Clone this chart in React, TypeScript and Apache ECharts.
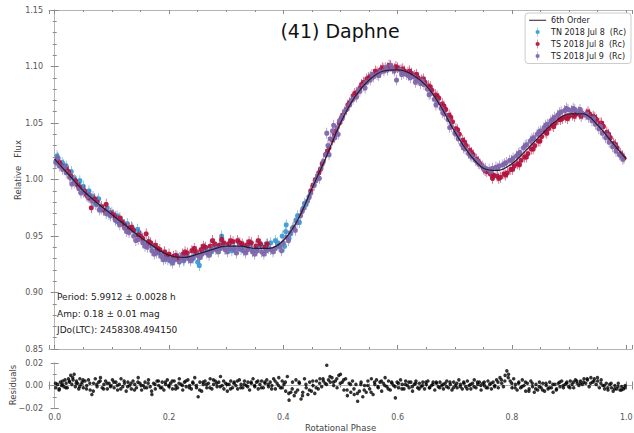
import React, { useEffect, useRef } from "react";
import * as echarts from "echarts";

// 6th-order fit, read at phase steps
const fitCurve: number[][] = [
  [0.0, 1.018], [0.025, 1.004], [0.05, 0.99], [0.075, 0.979], [0.1, 0.969], [0.125, 0.959],
  [0.15, 0.949], [0.175, 0.94], [0.2, 0.933], [0.225, 0.931], [0.25, 0.934], [0.275, 0.938],
  [0.3, 0.941], [0.325, 0.941], [0.35, 0.939], [0.375, 0.939], [0.4, 0.946], [0.425, 0.964],
  [0.45, 0.992], [0.475, 1.02], [0.5, 1.05], [0.525, 1.073], [0.55, 1.088], [0.575, 1.096],
  [0.6, 1.097], [0.625, 1.093], [0.65, 1.083], [0.675, 1.065], [0.7, 1.042], [0.725, 1.023],
  [0.75, 1.01], [0.775, 1.008], [0.8, 1.014], [0.825, 1.026], [0.85, 1.039], [0.875, 1.051],
  [0.9, 1.058], [0.925, 1.058], [0.95, 1.048], [0.975, 1.033], [1.0, 1.018],
];

const tnJul8: number[][] = [
  [0.002, 1.016], [0.006, 1.019], [0.01, 1.013], [0.013, 1.015], [0.017, 1.01], [0.02, 1.012],
  [0.024, 1.006], [0.027, 1.004], [0.031, 1.002], [0.035, 1.0], [0.038, 0.998], [0.042, 0.996],
  [0.046, 0.993], [0.05, 0.994], [0.054, 0.988], [0.058, 0.987], [0.062, 0.983], [0.067, 0.985],
  [0.071, 0.978], [0.075, 0.981], [0.08, 0.975], [0.085, 0.973], [0.09, 0.972], [0.095, 0.969],
  [0.1, 0.971], [0.106, 0.965], [0.112, 0.962], [0.118, 0.963], [0.124, 0.958], [0.13, 0.955],
  [0.136, 0.957], [0.142, 0.951], [0.148, 0.953], [0.155, 0.946], [0.162, 0.943], [0.17, 0.941],
  [0.178, 0.938], [0.186, 0.934], [0.194, 0.932], [0.202, 0.93], [0.21, 0.929], [0.218, 0.931],
  [0.226, 0.928], [0.234, 0.931], [0.242, 0.93], [0.25, 0.927], [0.258, 0.935], [0.266, 0.937],
  [0.274, 0.936], [0.282, 0.94], [0.29, 0.941], [0.292, 0.95], [0.298, 0.939], [0.306, 0.943],
  [0.314, 0.94], [0.322, 0.944], [0.33, 0.941], [0.338, 0.94], [0.346, 0.937], [0.354, 0.939],
  [0.362, 0.941], [0.37, 0.943], [0.378, 0.944], [0.386, 0.946], [0.392, 0.941], [0.398, 0.95],
  [0.404, 0.954], [0.41, 0.948], [0.416, 0.957], [0.422, 0.964], [0.428, 0.962], [0.434, 0.974],
  [0.44, 0.978], [0.004, 1.021], [0.015, 1.013], [0.029, 1.007], [0.044, 0.999], [0.06, 0.99],
  [0.077, 0.983], [0.092, 0.975], [0.109, 0.968], [0.127, 0.961], [0.145, 0.956], [0.165, 0.945],
  [0.182, 0.935], [0.198, 0.929], [0.214, 0.932], [0.23, 0.933], [0.246, 0.934], [0.262, 0.939],
  [0.278, 0.939], [0.294, 0.943], [0.31, 0.937], [0.326, 0.938], [0.342, 0.942], [0.358, 0.942],
  [0.374, 0.939], [0.39, 0.944], [0.402, 0.941], [0.405, 0.96], [0.413, 0.952], [0.425, 0.968],
  [0.437, 0.979], [0.445, 0.985], [0.253, 0.924],
];

const tsJul8: number[][] = [
  [0.004, 1.017], [0.012, 1.012], [0.02, 1.009], [0.028, 1.003], [0.036, 0.999], [0.044, 0.993],
  [0.052, 0.99], [0.06, 0.984], [0.064, 0.975], [0.074, 0.98], [0.082, 0.976], [0.09, 0.978],
  [0.098, 0.97], [0.106, 0.967], [0.114, 0.966], [0.122, 0.96], [0.13, 0.957], [0.138, 0.955],
  [0.146, 0.951], [0.154, 0.948], [0.16, 0.952], [0.168, 0.944], [0.176, 0.942], [0.184, 0.938],
  [0.192, 0.936], [0.2, 0.934], [0.208, 0.932], [0.216, 0.93], [0.224, 0.934], [0.232, 0.935],
  [0.24, 0.937], [0.248, 0.936], [0.256, 0.938], [0.264, 0.94], [0.272, 0.941], [0.28, 0.943],
  [0.288, 0.942], [0.296, 0.944], [0.304, 0.943], [0.312, 0.945], [0.32, 0.946], [0.328, 0.943],
  [0.336, 0.942], [0.344, 0.944], [0.352, 0.941], [0.36, 0.943], [0.368, 0.94], [0.448, 0.99],
  [0.456, 1.0], [0.462, 1.006], [0.468, 1.014], [0.474, 1.022], [0.48, 1.028], [0.486, 1.035],
  [0.492, 1.043], [0.498, 1.05], [0.504, 1.057], [0.51, 1.062], [0.516, 1.068], [0.522, 1.074],
  [0.528, 1.077], [0.534, 1.081], [0.54, 1.086], [0.546, 1.089], [0.552, 1.091], [0.558, 1.093],
  [0.564, 1.095], [0.57, 1.097], [0.576, 1.098], [0.582, 1.099], [0.588, 1.1], [0.594, 1.098],
  [0.6, 1.099], [0.606, 1.097], [0.612, 1.096], [0.618, 1.095], [0.624, 1.094], [0.63, 1.092],
  [0.636, 1.09], [0.642, 1.088], [0.648, 1.086], [0.654, 1.083], [0.66, 1.079], [0.666, 1.075],
  [0.672, 1.072], [0.678, 1.067], [0.684, 1.062], [0.69, 1.057], [0.696, 1.051], [0.702, 1.045],
  [0.708, 1.04], [0.714, 1.035], [0.72, 1.03], [0.726, 1.026], [0.732, 1.022], [0.738, 1.018],
  [0.744, 1.014], [0.75, 1.01], [0.756, 1.007], [0.762, 1.005], [0.766, 1.001], [0.768, 1.004],
  [0.774, 1.003], [0.78, 1.002], [0.786, 1.005], [0.792, 1.006], [0.798, 1.009], [0.804, 1.012],
  [0.81, 1.014], [0.816, 1.017], [0.822, 1.02], [0.828, 1.023], [0.834, 1.027], [0.84, 1.03],
  [0.846, 1.034], [0.852, 1.038], [0.858, 1.042], [0.864, 1.045], [0.87, 1.048], [0.876, 1.05],
  [0.882, 1.053], [0.888, 1.054], [0.894, 1.055], [0.9, 1.056], [0.906, 1.057], [0.912, 1.058],
  [0.918, 1.058], [0.924, 1.058], [0.93, 1.058], [0.936, 1.058], [0.942, 1.056], [0.948, 1.053],
  [0.954, 1.05], [0.96, 1.047], [0.966, 1.042], [0.972, 1.037], [0.978, 1.032], [0.984, 1.028],
  [0.99, 1.023], [0.996, 1.019], [0.008, 1.015], [0.024, 1.007], [0.04, 0.995], [0.056, 0.986],
  [0.07, 0.983], [0.086, 0.973], [0.102, 0.969], [0.118, 0.962], [0.134, 0.958], [0.15, 0.95],
  [0.164, 0.945], [0.18, 0.939], [0.196, 0.933], [0.212, 0.933], [0.228, 0.936], [0.244, 0.939],
  [0.26, 0.941], [0.276, 0.946], [0.292, 0.947], [0.308, 0.946], [0.324, 0.944], [0.34, 0.945],
  [0.356, 0.946], [0.372, 0.943], [0.452, 0.995], [0.465, 1.009], [0.477, 1.025], [0.489, 1.04],
  [0.501, 1.054], [0.513, 1.066], [0.525, 1.076], [0.537, 1.084], [0.549, 1.09], [0.561, 1.096],
  [0.573, 1.099], [0.585, 1.101], [0.597, 1.1], [0.609, 1.098], [0.621, 1.096], [0.633, 1.093],
  [0.645, 1.089], [0.657, 1.082], [0.669, 1.074], [0.681, 1.065], [0.693, 1.055], [0.705, 1.044],
  [0.717, 1.033], [0.729, 1.024], [0.741, 1.016], [0.753, 1.008], [0.765, 1.004], [0.777, 1.001],
  [0.789, 1.004], [0.801, 1.009], [0.813, 1.013], [0.825, 1.02], [0.837, 1.027], [0.849, 1.034],
  [0.861, 1.041], [0.873, 1.047], [0.885, 1.053], [0.897, 1.054], [0.909, 1.056], [0.921, 1.056],
  [0.933, 1.06], [0.945, 1.055], [0.957, 1.05], [0.969, 1.04], [0.981, 1.031], [0.993, 1.021],
];

const tsJul9: number[][] = [
  [0.002, 1.015], [0.008, 1.012], [0.014, 1.009], [0.02, 1.006], [0.026, 1.002], [0.034, 0.997],
  [0.042, 0.992], [0.05, 0.989], [0.058, 0.985], [0.066, 0.981], [0.074, 0.978], [0.082, 0.974],
  [0.09, 0.97], [0.098, 0.968], [0.106, 0.964], [0.114, 0.96], [0.122, 0.957], [0.13, 0.953],
  [0.138, 0.95], [0.146, 0.947], [0.154, 0.944], [0.162, 0.94], [0.17, 0.937], [0.178, 0.935],
  [0.186, 0.932], [0.194, 0.93], [0.202, 0.928], [0.21, 0.929], [0.218, 0.927], [0.226, 0.929],
  [0.234, 0.93], [0.242, 0.931], [0.25, 0.933], [0.258, 0.934], [0.266, 0.935], [0.274, 0.937],
  [0.282, 0.938], [0.29, 0.939], [0.298, 0.938], [0.306, 0.939], [0.314, 0.938], [0.322, 0.939],
  [0.33, 0.937], [0.338, 0.938], [0.346, 0.936], [0.354, 0.937], [0.362, 0.936], [0.37, 0.937],
  [0.378, 0.938], [0.386, 0.939], [0.394, 0.941], [0.4, 0.944], [0.406, 0.949], [0.412, 0.953],
  [0.418, 0.958], [0.424, 0.962], [0.43, 0.968], [0.436, 0.975], [0.442, 0.981], [0.448, 0.988],
  [0.454, 0.995], [0.46, 1.003], [0.466, 1.01], [0.47, 1.016], [0.474, 1.022], [0.476, 1.041],
  [0.478, 1.03], [0.482, 1.036], [0.486, 1.043], [0.49, 1.037], [0.494, 1.046], [0.498, 1.052],
  [0.504, 1.056], [0.51, 1.062], [0.516, 1.066], [0.522, 1.071], [0.528, 1.073], [0.534, 1.078],
  [0.54, 1.083], [0.546, 1.086], [0.552, 1.088], [0.558, 1.091], [0.564, 1.093], [0.57, 1.095],
  [0.576, 1.096], [0.582, 1.097], [0.588, 1.101], [0.594, 1.096], [0.598, 1.088], [0.604, 1.097],
  [0.61, 1.094], [0.616, 1.093], [0.622, 1.09], [0.628, 1.091], [0.634, 1.088], [0.64, 1.085],
  [0.646, 1.084], [0.652, 1.08], [0.658, 1.076], [0.664, 1.071], [0.67, 1.068], [0.676, 1.063],
  [0.682, 1.058], [0.688, 1.053], [0.694, 1.047], [0.7, 1.041], [0.706, 1.036], [0.712, 1.031],
  [0.718, 1.027], [0.724, 1.023], [0.73, 1.02], [0.736, 1.017], [0.742, 1.014], [0.748, 1.012],
  [0.754, 1.01], [0.76, 1.009], [0.766, 1.01], [0.772, 1.011], [0.778, 1.012], [0.784, 1.013],
  [0.79, 1.015], [0.796, 1.017], [0.802, 1.019], [0.808, 1.021], [0.814, 1.024], [0.82, 1.028],
  [0.826, 1.031], [0.832, 1.034], [0.838, 1.037], [0.844, 1.04], [0.85, 1.043], [0.856, 1.046],
  [0.862, 1.049], [0.868, 1.052], [0.874, 1.055], [0.88, 1.057], [0.886, 1.06], [0.892, 1.061],
  [0.898, 1.062], [0.904, 1.061], [0.91, 1.062], [0.916, 1.06], [0.922, 1.059], [0.928, 1.057],
  [0.934, 1.055], [0.94, 1.052], [0.946, 1.049], [0.952, 1.045], [0.958, 1.041], [0.964, 1.037],
  [0.97, 1.033], [0.976, 1.029], [0.982, 1.025], [0.988, 1.022], [0.994, 1.018],
  [0.005, 1.019], [0.017, 1.011], [0.03, 0.996], [0.046, 0.988], [0.062, 0.986], [0.078, 0.973],
  [0.094, 0.971], [0.11, 0.963], [0.126, 0.954], [0.142, 0.946], [0.158, 0.941], [0.174, 0.934],
  [0.19, 0.929], [0.206, 0.926], [0.222, 0.931], [0.238, 0.928], [0.254, 0.931], [0.27, 0.933],
  [0.286, 0.936], [0.302, 0.936], [0.318, 0.935], [0.334, 0.935], [0.35, 0.934], [0.366, 0.934],
  [0.382, 0.936], [0.397, 0.937], [0.409, 0.946], [0.421, 0.955], [0.433, 0.972], [0.445, 0.984],
  [0.457, 0.999], [0.463, 1.001], [0.48, 1.022], [0.488, 1.048], [0.496, 1.04], [0.503, 1.054],
  [0.507, 1.06], [0.519, 1.07], [0.531, 1.079], [0.543, 1.081], [0.555, 1.093], [0.567, 1.092],
  [0.579, 1.099], [0.591, 1.098], [0.607, 1.093], [0.619, 1.092], [0.631, 1.086], [0.643, 1.087],
  [0.655, 1.075], [0.667, 1.066], [0.679, 1.059], [0.691, 1.046], [0.703, 1.04], [0.715, 1.028],
  [0.727, 1.021], [0.739, 1.016], [0.751, 1.009], [0.763, 1.007], [0.775, 1.01], [0.787, 1.014],
  [0.799, 1.017], [0.811, 1.023], [0.823, 1.03], [0.835, 1.036], [0.847, 1.042], [0.859, 1.048],
  [0.871, 1.053], [0.883, 1.059], [0.895, 1.063], [0.907, 1.063], [0.919, 1.062], [0.931, 1.058],
  [0.943, 1.054], [0.955, 1.047], [0.967, 1.039], [0.979, 1.03], [0.991, 1.021],
];

const residuals: number[][] = [
  [0.002, -0.002], [0.005, 0.001], [0.008, -0.003], [0.01, 0.003], [0.012, 0.0], [0.014, 0.004],
  [0.016, -0.001], [0.018, 0.005], [0.02, 0.002], [0.022, -0.002], [0.024, 0.006], [0.026, 0.003],
  [0.028, 0.009], [0.03, 0.001], [0.032, 0.005], [0.034, 0.01], [0.036, -0.001], [0.038, 0.004],
  [0.04, 0.002], [0.042, -0.003], [0.044, 0.006], [0.046, 0.001], [0.048, 0.003], [0.05, -0.002],
  [0.053, 0.004], [0.056, 0.0], [0.059, 0.005], [0.062, -0.004], [0.065, -0.008], [0.068, 0.002],
  [0.071, 0.006], [0.074, -0.001], [0.077, 0.003], [0.08, 0.007], [0.083, -0.002], [0.086, 0.001],
  [0.089, 0.004], [0.092, -0.003], [0.095, 0.002], [0.098, 0.0], [0.101, 0.005], [0.104, -0.002],
  [0.107, 0.003], [0.11, -0.004], [0.113, 0.001], [0.116, 0.006], [0.119, -0.001], [0.122, 0.002],
  [0.125, -0.005], [0.128, 0.003], [0.131, 0.0], [0.134, -0.003], [0.137, 0.004], [0.14, 0.001],
  [0.143, -0.002], [0.146, 0.007], [0.149, 0.002], [0.152, -0.004], [0.155, 0.0], [0.158, 0.003],
  [0.161, -0.002], [0.164, 0.005], [0.167, -0.001], [0.17, -0.008], [0.173, 0.002], [0.176, -0.003],
  [0.179, 0.004], [0.182, 0.0], [0.185, -0.002], [0.188, 0.003], [0.191, -0.004], [0.194, 0.001],
  [0.197, 0.005], [0.2, -0.001], [0.203, 0.002], [0.206, -0.003], [0.209, 0.004], [0.212, 0.0],
  [0.215, -0.002], [0.218, 0.006], [0.221, 0.001], [0.224, -0.004], [0.227, 0.003], [0.23, -0.001],
  [0.233, 0.005], [0.236, 0.0], [0.239, -0.003], [0.242, 0.002], [0.245, 0.007], [0.248, -0.002],
  [0.251, -0.01], [0.254, 0.003], [0.257, -0.005], [0.26, 0.001], [0.263, 0.004], [0.266, -0.002],
  [0.269, 0.002], [0.272, 0.006], [0.275, -0.003], [0.278, 0.001], [0.281, 0.004], [0.284, -0.001],
  [0.287, 0.003], [0.29, 0.008], [0.293, 0.0], [0.296, -0.003], [0.299, 0.002], [0.302, -0.005],
  [0.305, 0.001], [0.308, 0.004], [0.311, -0.002], [0.314, 0.003], [0.317, 0.0], [0.32, -0.003],
  [0.323, 0.005], [0.326, 0.001], [0.329, -0.002], [0.332, 0.004], [0.335, 0.0], [0.338, 0.003],
  [0.341, -0.004], [0.344, 0.002], [0.347, 0.006], [0.35, -0.001], [0.353, 0.003], [0.356, -0.003],
  [0.359, 0.001], [0.362, 0.004], [0.365, -0.002], [0.368, 0.002], [0.371, 0.005], [0.374, -0.001],
  [0.377, 0.003], [0.38, 0.0], [0.383, 0.006], [0.386, -0.003], [0.389, 0.002], [0.392, 0.007],
  [0.395, -0.002], [0.398, 0.004], [0.401, 0.001], [0.404, -0.005], [0.407, 0.008], [0.41, -0.013],
  [0.413, -0.006], [0.416, 0.003], [0.419, -0.009], [0.422, 0.005], [0.425, -0.004], [0.428, 0.002],
  [0.431, -0.012], [0.434, -0.006], [0.437, 0.006], [0.44, -0.002], [0.443, -0.008], [0.446, 0.003],
  [0.449, -0.005], [0.452, 0.0], [0.455, -0.007], [0.458, 0.004], [0.461, -0.003], [0.464, 0.006],
  [0.467, -0.001], [0.47, 0.004], [0.473, 0.002], [0.476, 0.018], [0.479, 0.005], [0.482, 0.003],
  [0.485, 0.007], [0.488, 0.0], [0.491, 0.004], [0.494, -0.002], [0.497, 0.009], [0.5, 0.01],
  [0.503, 0.003], [0.506, -0.004], [0.509, 0.006], [0.512, -0.009], [0.515, 0.002], [0.518, -0.006],
  [0.521, 0.004], [0.524, -0.008], [0.527, 0.001], [0.53, -0.014], [0.533, -0.005], [0.536, 0.003],
  [0.539, -0.01], [0.542, 0.0], [0.545, -0.006], [0.548, 0.004], [0.551, -0.003], [0.554, 0.006],
  [0.557, -0.008], [0.56, 0.001], [0.563, 0.005], [0.566, -0.002], [0.569, 0.003], [0.572, -0.005],
  [0.575, 0.002], [0.578, 0.007], [0.581, -0.001], [0.584, 0.004], [0.587, -0.004], [0.59, 0.002],
  [0.593, 0.0], [0.596, -0.011], [0.599, 0.003], [0.602, -0.002], [0.605, 0.005], [0.608, 0.001],
  [0.611, -0.003], [0.614, 0.004], [0.617, 0.0], [0.62, -0.002], [0.623, 0.003], [0.626, -0.005],
  [0.629, 0.001], [0.632, 0.004], [0.635, -0.002], [0.638, 0.002], [0.641, -0.001], [0.644, 0.003],
  [0.647, -0.003], [0.65, 0.001], [0.653, 0.004], [0.656, -0.002], [0.659, 0.0], [0.662, 0.003],
  [0.665, -0.004], [0.668, 0.002], [0.671, -0.001], [0.674, 0.003], [0.677, 0.0], [0.68, -0.003],
  [0.683, 0.002], [0.686, 0.004], [0.689, -0.002], [0.692, 0.001], [0.695, -0.004], [0.698, 0.003],
  [0.701, 0.0], [0.704, -0.002], [0.707, 0.005], [0.71, 0.001], [0.713, -0.003], [0.716, 0.002],
  [0.719, -0.001], [0.722, 0.004], [0.725, 0.0], [0.728, -0.003], [0.731, 0.002], [0.734, 0.005],
  [0.737, -0.002], [0.74, 0.001], [0.743, 0.003], [0.746, -0.004], [0.749, 0.002], [0.752, 0.0],
  [0.755, -0.002], [0.758, 0.004], [0.761, 0.001], [0.764, -0.003], [0.767, 0.003], [0.77, 0.0],
  [0.773, 0.005], [0.776, -0.002], [0.779, 0.007], [0.782, 0.002], [0.785, -0.001], [0.788, 0.009],
  [0.791, 0.013], [0.794, 0.01], [0.797, 0.004], [0.8, -0.002], [0.803, 0.006], [0.806, 0.001],
  [0.809, -0.004], [0.812, 0.003], [0.815, -0.002], [0.818, 0.005], [0.821, 0.0], [0.824, -0.005],
  [0.827, 0.002], [0.83, -0.003], [0.833, 0.004], [0.836, -0.001], [0.839, -0.006], [0.842, 0.001],
  [0.845, -0.004], [0.848, 0.003], [0.851, -0.002], [0.854, 0.002], [0.857, -0.005], [0.86, 0.0],
  [0.863, -0.003], [0.866, 0.003], [0.869, -0.002], [0.872, -0.006], [0.875, 0.001], [0.878, -0.003],
  [0.881, 0.002], [0.884, -0.001], [0.887, 0.004], [0.89, -0.002], [0.893, 0.001], [0.896, 0.003],
  [0.899, -0.001], [0.902, 0.004], [0.905, 0.001], [0.908, -0.002], [0.911, 0.005], [0.914, 0.002],
  [0.917, 0.0], [0.92, 0.004], [0.923, 0.001], [0.926, 0.006], [0.929, 0.002], [0.932, 0.005],
  [0.935, -0.001], [0.938, 0.007], [0.941, 0.003], [0.944, 0.006], [0.947, 0.001], [0.95, 0.004],
  [0.953, -0.002], [0.956, 0.005], [0.959, 0.0], [0.962, -0.003], [0.965, 0.002], [0.968, -0.004],
  [0.971, 0.001], [0.974, -0.002], [0.977, -0.005], [0.98, 0.0], [0.983, -0.003], [0.986, 0.002],
  [0.989, -0.004], [0.992, -0.001], [0.995, -0.003], [0.998, 0.0],
  [0.0015, 0.002], [0.0075, -0.004], [0.0135, 0.001], [0.0195, -0.002], [0.0255, 0.004], [0.0315, 0.007],
  [0.0375, 0.002], [0.0435, -0.001], [0.0495, 0.005], [0.0555, -0.003], [0.0615, 0.002], [0.0675, -0.005],
  [0.0735, 0.001], [0.0795, 0.004], [0.0855, -0.003], [0.0915, 0.002], [0.0975, -0.001], [0.1035, 0.003],
  [0.1095, 0.0], [0.1155, -0.003], [0.1215, 0.004], [0.1275, -0.001], [0.1335, 0.002], [0.1395, -0.004],
  [0.1455, 0.003], [0.1515, 0.0], [0.1575, -0.002], [0.1635, 0.002], [0.1695, -0.005], [0.1755, 0.001],
  [0.1815, 0.004], [0.1875, -0.002], [0.1935, 0.003], [0.1995, 0.0], [0.2055, 0.004], [0.2115, -0.003],
  [0.2175, 0.002], [0.2235, 0.0], [0.2295, 0.004], [0.2355, -0.002], [0.2415, 0.003], [0.2475, 0.0],
  [0.2535, -0.004], [0.2595, 0.003], [0.2655, 0.001], [0.2715, -0.002], [0.2775, 0.005], [0.2835, 0.002],
  [0.2895, -0.001], [0.2955, 0.004], [0.3015, 0.001], [0.3075, -0.003], [0.3135, 0.002], [0.3195, 0.004],
  [0.3255, -0.002], [0.3315, 0.001], [0.3375, -0.001], [0.3435, 0.003], [0.3495, 0.0], [0.3555, 0.004],
  [0.3615, -0.002], [0.3675, 0.003], [0.3735, 0.001], [0.3795, -0.003], [0.3855, 0.004], [0.3915, 0.0],
  [0.3975, -0.002], [0.4035, 0.003], [0.4095, -0.007], [0.4155, -0.003], [0.4215, -0.006], [0.4275, 0.003],
  [0.4335, -0.009], [0.4395, 0.001], [0.4455, -0.004], [0.4515, 0.004], [0.4575, -0.002], [0.4635, 0.002],
  [0.4695, 0.006], [0.4755, 0.001], [0.4815, 0.008], [0.4875, 0.003], [0.4935, 0.006], [0.4995, 0.002],
  [0.5055, 0.005], [0.5115, -0.004], [0.5175, 0.001], [0.5235, -0.003], [0.5295, -0.007], [0.5355, 0.001],
  [0.5415, -0.004], [0.5475, 0.0], [0.5535, -0.006], [0.5595, 0.003], [0.5655, -0.001], [0.5715, 0.004],
  [0.5775, 0.0], [0.5835, -0.003], [0.5895, 0.003], [0.5955, -0.001], [0.6015, 0.002], [0.6075, -0.003],
  [0.6135, 0.001], [0.6195, 0.003], [0.6255, -0.001], [0.6315, 0.002], [0.6375, -0.003], [0.6435, 0.0],
  [0.6495, 0.003], [0.6555, -0.002], [0.6615, 0.001], [0.6675, 0.003], [0.6735, -0.002], [0.6795, 0.001],
  [0.6855, -0.001], [0.6915, 0.003], [0.6975, -0.002], [0.7035, 0.002], [0.7095, -0.001], [0.7155, 0.003],
  [0.7215, -0.003], [0.7275, 0.001], [0.7335, -0.001], [0.7395, 0.003], [0.7455, 0.0], [0.7515, 0.003],
  [0.7575, -0.002], [0.7635, 0.002], [0.7695, -0.001], [0.7755, 0.003], [0.7815, 0.005], [0.7875, 0.004],
  [0.7935, 0.007], [0.7995, 0.002], [0.8055, -0.002], [0.8115, 0.002], [0.8175, -0.001], [0.8235, 0.003],
  [0.8295, -0.005], [0.8355, 0.002], [0.8415, -0.003], [0.8475, -0.001], [0.8535, -0.004], [0.8595, 0.002],
  [0.8655, -0.002], [0.8715, 0.001], [0.8775, -0.004], [0.8835, 0.003], [0.8895, 0.0], [0.8955, 0.002],
  [0.9015, -0.002], [0.9075, 0.003], [0.9135, 0.004], [0.9195, 0.002], [0.9255, 0.003], [0.9315, 0.006],
  [0.9375, 0.002], [0.9435, 0.004], [0.9495, 0.007], [0.9555, 0.002], [0.9615, 0.0], [0.9675, -0.002],
  [0.9735, 0.002], [0.9795, -0.003], [0.9855, -0.001], [0.9915, -0.004], [0.9975, -0.002],
];

const seriesNames = ["6th Order", "TN 2018 Jul 8  (Rc)", "TS 2018 Jul 8  (Rc)", "TS 2018 Jul 9  (Rc)"];
const annotations = ["Period: 5.9912 \u00b1 0.0028 h", "Amp: 0.18 \u00b1 0.01 mag", "JDo(LTC): 2458308.494150"];

const ERR_SYMBOL =
  "path://M3.1,0H3.9V15H3.1Z M0,7.5A3.5,3.5 0 1 1 7,7.5A3.5,3.5 0 1 1 0,7.5Z";
const LINE_ICON = "path://M0,4.3H20V5.7H0Z M0,0H0.01V0.01H0Z M0,10H0.01V10.01H0Z";

export default function App() {
  const ref = useRef<HTMLDivElement>(null);
  useEffect(() => {
    document.body.style.margin = "0";
    const chart = echarts.init(ref.current!, null, { renderer: "svg" });
    const font = "DejaVu Sans";
    const spine = { show: true, lineStyle: { color: "#b5b5b5", width: 1 } };
    const tickStyle = { color: "#8a8a8a", width: 1 };
    const labelStyle = { fontFamily: font, fontSize: 8, color: "#555" };
    const nameStyle = { fontFamily: font, fontSize: 8.5, fill: "#444" };
    const xFmt = (v: number) =>
      Math.abs(v * 5 - Math.round(v * 5)) < 1e-6 && v > -0.001 && v < 1.001 ? v.toFixed(1) : "";

    const xBase = (grid: number, pos: "top" | "bottom", labels: boolean, name?: string) => ({
      type: "value",
      gridIndex: grid,
      position: pos,
      min: -0.01,
      max: 1.01,
      splitNumber: 5,
      axisLine: spine,
      axisTick: { show: true, inside: true, length: 4, lineStyle: tickStyle },
      minorTick: { show: true, splitNumber: 4, length: 2, lineStyle: tickStyle },
      splitLine: { show: false },
      axisLabel: labels
        ? { show: true, ...labelStyle, margin: 5, formatter: xFmt, showMinLabel: true, showMaxLabel: true }
        : { show: false },
      name: name,
      nameLocation: "middle",
      nameGap: 15,
      nameTextStyle: { fontFamily: font, fontSize: 8.5, color: "#444" },
    });

    const yBase = (grid: number, pos: "left" | "right", min: number, max: number, interval: number, minor: number) => ({
      type: "value",
      gridIndex: grid,
      position: pos,
      min,
      max,
      interval,
      axisLine: spine,
      axisTick: { show: true, inside: false, length: 4, lineStyle: tickStyle },
      minorTick: { show: true, splitNumber: minor, length: 2, lineStyle: tickStyle },
      splitLine: { show: false },
      axisLabel: { show: false },
    });

    const option: any = {
      animation: false,
      backgroundColor: "#fff",
      grid: [
        { left: 49, top: 10, width: 583, height: 339, outerBoundsMode: "none", containLabel: false },
        { left: 49, top: 363, width: 583, height: 45, outerBoundsMode: "none", containLabel: false },
      ],
      xAxis: [
        xBase(0, "bottom", false),
        xBase(0, "top", false),
        xBase(1, "bottom", true, "Rotational Phase"),
        xBase(1, "top", false),
      ],
      yAxis: [
        {
          ...yBase(0, "left", 0.85, 1.15, 0.05, 5),
          axisLabel: { ...labelStyle, margin: 6, formatter: (v: number) => v.toFixed(2) },
        },
        yBase(0, "right", 0.85, 1.15, 0.05, 5),
        {
          ...yBase(1, "left", -0.02, 0.02, 0.02, 2),
          axisLabel: {
            ...labelStyle,
            margin: 6,
            formatter: (v: number) => (v < -1e-9 ? "\u2212" + Math.abs(v).toFixed(2) : Math.abs(v).toFixed(2)),
          },
        },
        yBase(1, "right", -0.02, 0.02, 0.02, 2),
      ],
      legend: {
        data: [
          { name: seriesNames[0], icon: LINE_ICON },
          { name: seriesNames[1] },
          { name: seriesNames[2] },
          { name: seriesNames[3] },
        ],
        orient: "vertical",
        right: 3,
        top: 13,
        itemWidth: 17,
        itemHeight: 9,
        itemGap: 3,
        padding: [3, 5, 3, 4],
        borderColor: "#cccccc",
        borderWidth: 1,
        borderRadius: 3,
        backgroundColor: "#fff",
        textStyle: { fontFamily: font, fontSize: 8, color: "#222" },
      },
      graphic: [
        {
          type: "text",
          x: 340,
          y: 31,
          style: {
            text: "(41) Daphne",
            fontFamily: font,
            fontSize: 19,
            fill: "#111",
            textAlign: "center",
            textVerticalAlign: "middle",
          },
        },
        {
          type: "text",
          x: 18,
          y: 170,
          rotation: Math.PI / 2,
          style: { text: "Relative   Flux", ...nameStyle, textAlign: "center", textVerticalAlign: "middle" },
        },
        {
          type: "text",
          x: 13,
          y: 385,
          rotation: Math.PI / 2,
          style: { text: "Residuals", ...nameStyle, textAlign: "center", textVerticalAlign: "middle" },
        },
        ...annotations.map((t, i) => ({
          type: "text",
          x: 57,
          y: 297 + i * 16.5,
          style: {
            text: t,
            fontFamily: font,
            fontSize: 9,
            fill: "#222",
            textAlign: "left",
            textVerticalAlign: "middle",
          },
        })),
      ],
      series: [
        {
          name: seriesNames[1],
          type: "scatter",
          xAxisIndex: 0,
          yAxisIndex: 0,
          data: tnJul8,
          symbol: ERR_SYMBOL,
          symbolSize: [5, 11],
          itemStyle: { color: "#3a9bd5", opacity: 0.95 },
          z: 2,
        },
        {
          name: seriesNames[2],
          type: "scatter",
          xAxisIndex: 0,
          yAxisIndex: 0,
          data: tsJul8,
          symbol: ERR_SYMBOL,
          symbolSize: [5, 11],
          itemStyle: { color: "#b3123d", opacity: 0.95 },
          z: 3,
        },
        {
          name: seriesNames[3],
          type: "scatter",
          xAxisIndex: 0,
          yAxisIndex: 0,
          data: tsJul9,
          symbol: ERR_SYMBOL,
          symbolSize: [5, 11],
          itemStyle: { color: "#7d66ab", opacity: 0.95 },
          z: 4,
        },
        {
          name: seriesNames[0],
          type: "line",
          xAxisIndex: 0,
          yAxisIndex: 0,
          data: fitCurve,
          smooth: 0.35,
          symbol: "none",
          lineStyle: { color: "#2b1a2c", width: 1.2 },
          itemStyle: { color: "#2b1a2c" },
          z: 5,
        },
        {
          name: "residuals",
          type: "scatter",
          xAxisIndex: 2,
          yAxisIndex: 2,
          data: residuals,
          symbol: "circle",
          symbolSize: 3.5,
          itemStyle: { color: "#000" },
        },
      ],
    };
    chart.setOption(option);
    return () => chart.dispose();
  }, []);
  return <div ref={ref} style={{ width: 634, height: 433 }} />;
}
